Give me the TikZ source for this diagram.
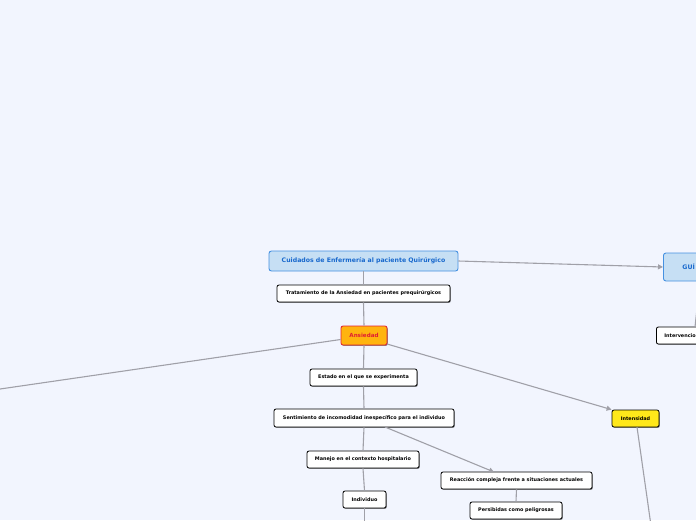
\documentclass[tikz,border=0pt]{standalone}
\usepackage{fontspec}
\setmainfont{DejaVu Sans}
\usetikzlibrary{shadows,arrows.meta}
\definecolor{bg}{RGB}{242,245,254}
\definecolor{conn}{RGB}{160,160,168}
\definecolor{tfill}{RGB}{198,223,244}
\definecolor{tdraw}{RGB}{70,145,225}
\definecolor{ttext}{RGB}{25,105,205}
\definecolor{ansfill}{RGB}{255,180,15}
\definecolor{ansred}{RGB}{225,30,50}
\definecolor{yel}{RGB}{255,232,26}
\tikzset{
  box/.style={draw=black, line width=0.8pt, fill=white, rounded corners=2pt,
    inner sep=0pt, font=\fontsize{4.9}{5.5}\selectfont\bfseries, text=black,
    drop shadow={shadow xshift=0.8pt, shadow yshift=-0.9pt, opacity=0.45, fill=black}},
  titlebox/.style={draw=tdraw, line width=0.9pt, fill=tfill, rounded corners=2.5pt,
    inner sep=0pt, font=\fontsize{6.2}{7}\selectfont\bfseries, text=ttext},
  link/.style={draw=conn, line width=1.1pt},
  arr/.style={link, -{Triangle[length=5pt,width=5pt]}},
}
\begin{document}
\begin{tikzpicture}[x=1pt,y=-1pt]
\useasboundingbox[fill=bg] (0,0) rectangle (696,520);

\node[titlebox, minimum width=189pt, minimum height=20pt] (title) at (363.5,261) {Cuidados de Enfermería al paciente Quirúrgico};
\node[titlebox, anchor=west, minimum height=28pt, text width=60pt, align=left, inner xsep=19pt, font=\fontsize{6.2}{7}\selectfont\bfseries] (gui) at (663,267) {GUÍ};
\node[box, anchor=west, minimum height=17pt, text width=60pt, align=left, inner xsep=8pt] (interv) at (656,335.5) {Intervencio};

\node[box, minimum width=173pt, minimum height=17pt] (trat) at (363.5,293.5) {Tratamiento de la Ansiedad en pacientes prequirúrgicos};
\node[box, fill=ansfill, draw=ansred, text=ansred, minimum width=46pt, minimum height=19pt, font=\fontsize{5.6}{6}\selectfont\bfseries] (ans) at (364,335.5) {Ansiedad};
\node[box, minimum width=107pt, minimum height=17pt] (estado) at (363.5,377.5) {Estado en el que se experimenta};
\node[box, minimum width=180pt, minimum height=18pt] (sent) at (364,418) {Sentimiento de incomodidad inespecífico para el individuo};
\node[box, minimum width=112pt, minimum height=17pt] (manejo) at (363,459.5) {Manejo en el contexto hospitalario};
\node[box, minimum width=43pt, minimum height=17pt] (indiv) at (364.5,499.5) {Individuo};
\node[box, minimum width=151pt, minimum height=17pt] (reac) at (516.5,480.5) {Reacción compleja frente a situaciones actuales};
\node[box, minimum width=92pt, minimum height=17pt] (pers) at (516,510.5) {Persibidas como peligrosas};
\node[box, fill=yel, minimum width=47pt, minimum height=17pt] (intens) at (635.5,418.5) {Intensidad};

\coordinate (leftend) at (-2,389.3);
\coordinate (indivend) at (364.5,522);
\coordinate (intensend) at (650.5,522);
\coordinate (guibot) at (700,281);

\draw[arr] (title.east) -- (gui.west);
\draw[link] (title.south) -- (trat.north);
\draw[link] (trat.south) -- (ans.north);
\draw[link] (ans.west) ++(0,4) -- (leftend);
\draw[arr] (387,344) -- (intens.north west);
\draw[link] (ans.south) -- (estado.north);
\draw[link] (estado.south) -- (sent.north);
\draw[link] (sent.south) -- (manejo.north);
\draw[arr] (385,427) -- (494,472);
\draw[link] (manejo.south) -- (indiv.north);
\draw[link] (indiv.south) -- (indivend);
\draw[link] (reac.south) -- (pers.north);
\draw[link] (637,427) -- (intensend);
\draw[link] (guibot) -- (695,327);
\end{tikzpicture}
\end{document}
